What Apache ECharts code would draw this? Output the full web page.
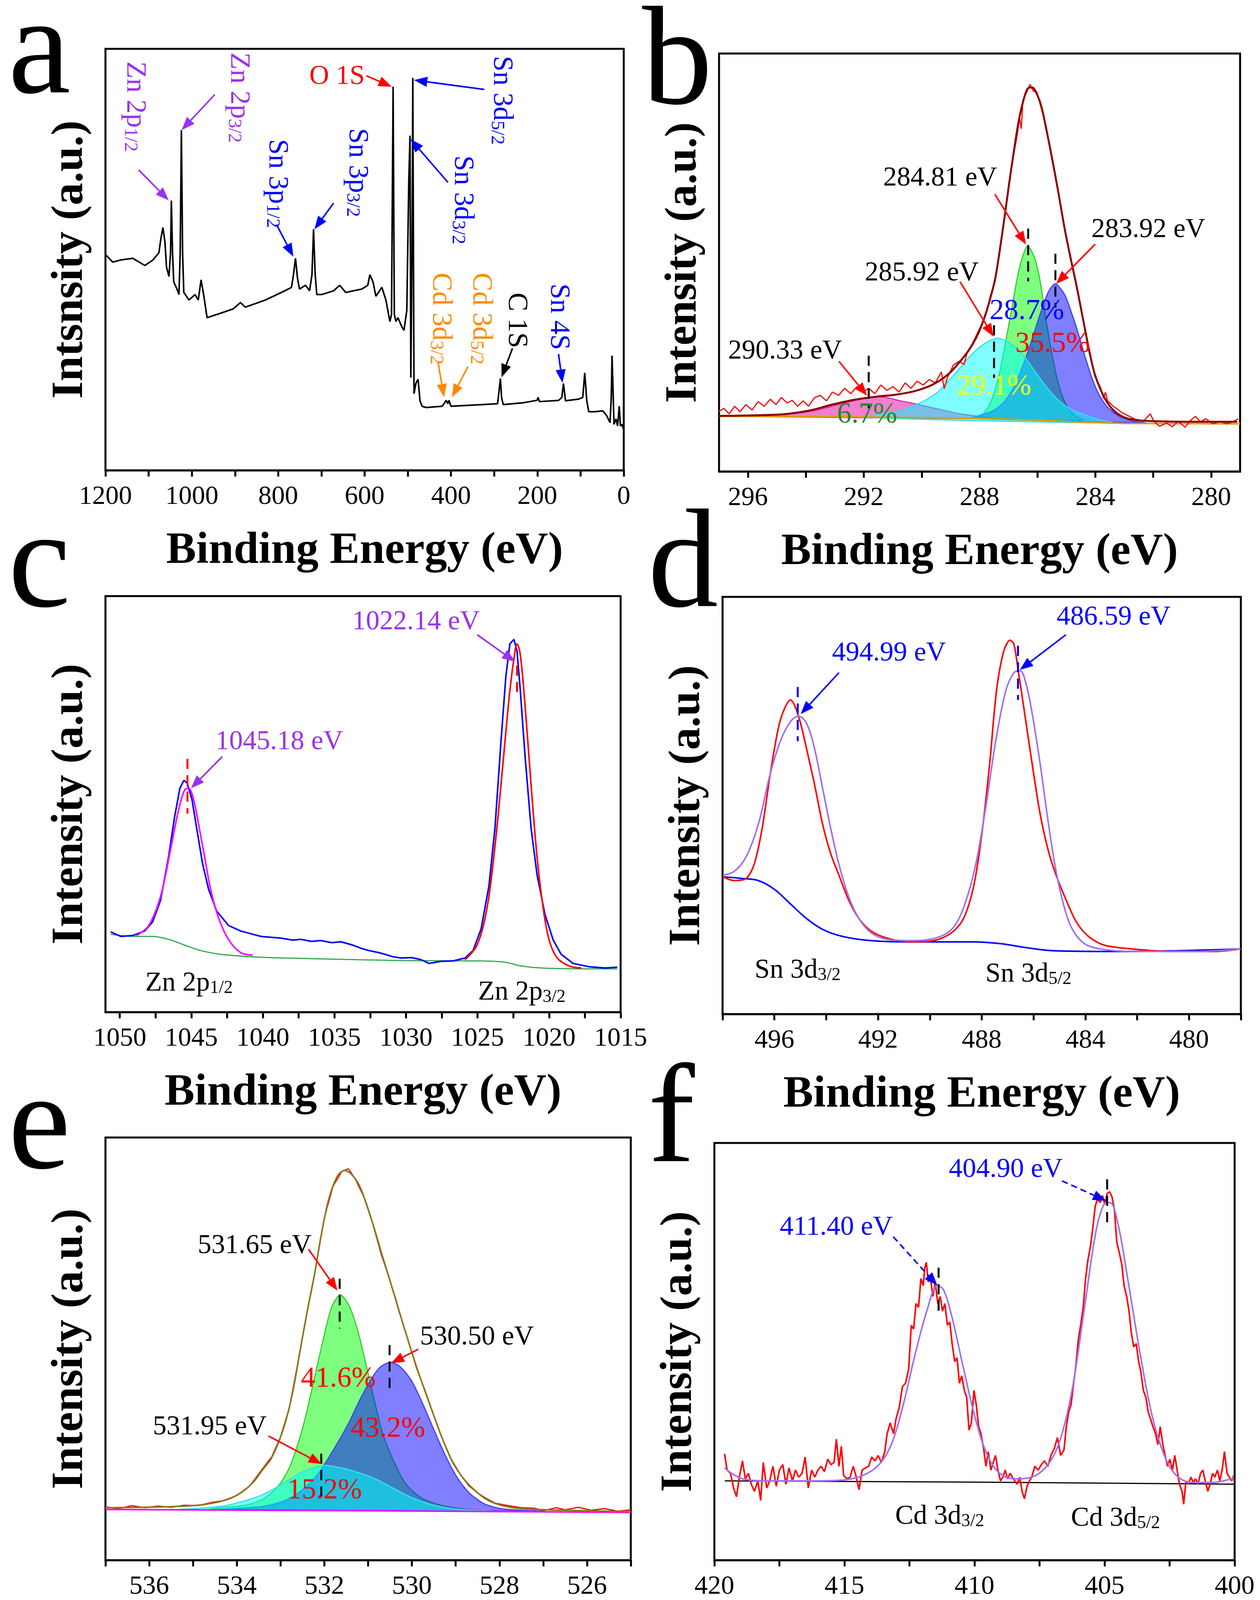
<!DOCTYPE html>
<html>
<head>
<meta charset="utf-8">
<title>XPS spectra</title>
<script src="https://cdn.jsdelivr.net/npm/echarts@6/dist/echarts.min.js"></script>
<style>
html, body { margin: 0; padding: 0; background: #fff; }
#main { width: 3226px; height: 4288px; }
</style>
</head>
<body>
<div id="main"></div>
<script>
var SERIF = "Liberation Serif";

// ---- data: [binding energy (eV), intensity (% of plot height)] ----

// a: survey
var aSurvey = [[1200,51.2],[1183.3,49.4],[1164.7,49.9],[1136.7,50.3],[1108.8,48.6],[1090.2,49.9],[1076.3,51.6],[1071.6,55.0],[1067.0,57.6],[1062.3,54.2],[1058.6,48.2],[1053.0,46.0],[1049.3,51.6],[1047.4,64.0],[1044.7,51.6],[1041.9,44.7],[1034.4,43.0],[1029.8,41.7],[1027.0,51.6],[1024.2,80.7],[1021.4,51.6],[1018.6,42.2],[1006.5,40.4],[992.6,41.7],[985.1,40.4],[978.6,45.2],[972.1,41.3],[964.7,36.2],[941.4,37.0],[904.2,38.3],[887.5,39.8],[876.3,38.7],[829.8,40.4],[792.6,42.2],[769.3,43.4],[764.7,46.4],[760.0,50.3],[755.4,45.6],[750.7,43.0],[736.7,43.9],[727.4,42.6],[721.9,46.4],[718.2,57.2],[714.4,46.4],[710.7,41.7],[699.5,41.7],[671.6,42.6],[657.7,43.9],[643.7,42.2],[606.5,43.0],[592.6,43.9],[587.9,46.4],[580.5,44.7],[573.9,41.3],[560.0,43.4],[550.7,40.4],[541.4,35.3],[537.7,37.0],[534.0,91.0],[531.2,37.0],[527.5,35.3],[522.8,36.2],[513.5,34.0],[508.9,33.2],[502.3,37.9],[497.7,68.7],[494.9,79.4],[493.0,22.0],[490.2,51.6],[488.4,93.1],[485.6,18.2],[481.0,20.7],[476.3,21.6],[471.7,16.5],[467.0,15.2],[457.7,14.9],[420.5,15.2],[414.9,16.0],[411.2,16.6],[407.5,15.8],[404.7,16.6],[400.0,15.2],[327.5,15.6],[292.1,15.8],[288.5,19.0],[285.6,21.8],[282.9,17.3],[279.1,15.6],[234.4,16.0],[201.0,16.6],[198.2,17.3],[195.4,16.3],[150.7,16.6],[143.3,17.3],[139.6,20.6],[134.9,16.5],[104.2,16.9],[94.9,17.3],[90.3,23.1],[85.6,16.5],[81.0,13.9],[67.0,13.9],[48.4,14.1],[39.1,12.9],[31.7,11.3],[28.9,17.3],[27.1,27.2],[24.3,17.3],[22.6,10.9],[17.9,12.2],[14.2,10.5],[10.5,15.2],[7.7,10.5],[4.0,10.9],[0,9.6]];

// b: C 1s
var bRaw = [[297.02,14.3],[296.83,15.1],[296.65,13.8],[296.46,15.6],[296.28,14.3],[296.07,16.0],[295.86,14.7],[295.65,16.7],[295.44,15.6],[295.23,17.3],[295.03,16.0],[294.85,17.7],[294.65,16.4],[294.47,17.0],[294.29,15.6],[294.09,16.9],[293.91,15.6],[293.70,17.7],[293.50,18.2],[293.29,16.9],[293.08,19.0],[292.87,18.2],[292.66,19.9],[292.45,18.6],[292.24,20.3],[292.03,19.0],[291.83,19.9],[291.62,18.6],[291.41,20.7],[291.20,19.4],[290.99,20.3],[290.78,19.0],[290.57,21.2],[290.37,19.9],[290.16,21.6],[289.95,20.7],[289.74,22.0],[289.53,21.2],[289.32,23.8],[289.22,19.8],[289.11,22.5],[288.90,25.5],[288.70,26.4],[288.54,25.6],[288.42,28.6],[288.26,30.4],[288.02,33.9],[287.78,37.5],[287.62,42.2],[287.46,45.6],[287.30,53.4],[287.14,60.2],[286.98,69.3],[286.82,75.8],[286.70,80.5],[286.62,84.6],[286.56,82.0],[286.50,88.9],[286.38,90.6],[286.26,92.6],[286.14,91.0],[286.02,90.8],[285.86,86.7],[285.70,82.6],[285.50,74.6],[285.30,68.1],[285.06,57.6],[284.86,51.7],[284.66,44.2],[284.50,39.6],[284.34,33.0],[284.18,28.3],[284.02,22.8],[283.82,20.1],[283.72,17.5],[283.65,19.0],[283.58,16.9],[283.38,15.6],[283.06,14.0],[282.66,12.6],[282.34,12.0],[282.10,13.8],[281.98,12.0],[281.78,10.8],[281.54,11.6],[281.34,10.7],[281.14,12.0],[280.90,10.6],[280.70,12.3],[280.54,13.2],[280.38,11.9],[280.18,12.6],[279.94,11.4],[279.70,12.0],[279.46,11.4],[279.22,12.0],[279.07,12.6]];
var bEnvelope = [[297.0,13.3],[296.0,13.4],[295.0,13.6],[294.5,13.9],[293.8,14.7],[293.1,16.0],[292.3,17.2],[291.46,18.0],[290.98,18.3],[290.26,19.2],[289.62,20.8],[289.06,23.4],[288.58,27.1],[288.26,30.2],[288.02,33.4],[287.78,37.9],[287.62,41.7],[287.46,46.1],[287.30,53.0],[287.14,60.7],[286.98,68.8],[286.82,76.4],[286.66,83.4],[286.50,88.4],[286.34,91.6],[286.18,91.9],[286.02,90.3],[285.86,87.2],[285.70,82.1],[285.50,75.1],[285.30,67.6],[285.06,58.1],[284.86,51.2],[284.66,44.8],[284.50,39.1],[284.34,33.4],[284.18,27.8],[284.02,23.3],[283.82,19.6],[283.58,16.4],[283.30,14.2],[282.98,12.9],[282.58,12.3],[281.86,12.0],[280.5,11.9],[279.1,11.9]];
var bBackground = [[297.0,13.2],[293.0,13.1],[290.0,12.9],[288.0,12.7],[286.0,12.3],[284.5,11.8],[283.0,11.5],[279.0,11.4]];
var bPeak290 = [[296.5,13.2],[295.93,13.3],[294.82,13.6],[293.84,14.4],[292.87,16.0],[292.3,17.0],[291.76,17.8],[291.3,17.8],[290.8,17.0],[290.37,16.4],[289.53,15.1],[288.70,13.8],[287.58,12.7]];
var bPeak285_9 = [[291.9,13.0],[290.82,14.5],[290.26,15.8],[289.86,17.1],[289.46,18.9],[289.06,21.8],[288.66,24.9],[288.34,27.5],[288.02,29.6],[287.70,31.1],[287.38,31.9],[287.06,31.1],[286.74,29.6],[286.42,27.2],[286.02,23.3],[285.62,19.6],[285.22,16.7],[284.82,14.8],[284.34,13.5],[283.86,12.4],[283.4,11.6]];
var bPeak284_8 = [[288.26,12.7],[287.94,13.4],[287.70,15.4],[287.54,18.0],[287.38,21.5],[287.22,26.5],[287.06,32.5],[286.90,38.5],[286.74,44.8],[286.58,49.9],[286.34,54.0],[286.10,51.1],[285.94,46.7],[285.82,41.7],[285.70,36.0],[285.54,29.6],[285.38,24.0],[285.22,19.6],[285.02,16.1],[284.74,13.5],[284.42,12.2]];
var bPeak283_9 = [[288.3,12.7],[288.10,13.2],[287.54,14.5],[287.14,16.7],[286.82,20.2],[286.58,24.0],[286.34,28.4],[286.10,33.5],[285.86,38.6],[285.62,43.0],[285.38,44.9],[285.06,42.3],[284.82,37.9],[284.58,32.8],[284.34,27.1],[284.10,22.0],[283.86,18.2],[283.58,15.4],[283.22,13.4],[282.74,12.1],[282.26,11.6]];
var bMarks = [[291.83,27.7,15.1],[287.50,35.0,22.4],[286.32,58.1,45.5],[285.38,52.1,39.2]];

// c: Zn 2p
var cRaw = [[1050.64,19.3],[1049.94,18.2],[1049.1,18.4],[1048.26,19.5],[1047.7,21.7],[1047.15,26.9],[1046.59,37.3],[1046.17,46.9],[1045.8,53.8],[1045.52,55.7],[1045.3,55.1],[1044.96,51.2],[1044.63,44.3],[1044.21,35.6],[1043.79,29.5],[1043.23,24.3],[1042.39,20.8],[1041.55,19.5],[1040.15,18.2],[1038.75,17.8],[1037.9,17.3],[1037.35,17.5],[1036.6,17.0],[1035.95,17.2],[1035.2,16.7],[1034.55,16.9],[1033.71,16.1],[1033.1,15.3],[1032.59,14.8],[1031.9,14.3],[1031.47,13.9],[1030.9,13.3],[1030.35,13.0],[1029.6,13.1],[1028.95,12.6],[1028.39,11.7],[1027.55,12.2],[1026.71,12.3],[1025.87,13.0],[1025.31,14.8],[1024.75,20.0],[1024.2,30.4],[1023.78,44.3],[1023.36,65.1],[1023.02,80.7],[1022.74,88.5],[1022.46,89.6],[1022.24,86.8],[1022.01,77.3],[1021.68,61.6],[1021.26,44.3],[1020.84,33.0],[1020.28,23.4],[1019.72,17.4],[1019.16,13.9],[1018.32,11.7],[1017.2,10.9],[1016.08,10.6],[1015.24,10.8]];
var cFit1045 = [[1048.82,18.4],[1047.98,20.8],[1047.15,27.8],[1046.45,39.1],[1045.89,48.6],[1045.47,53.4],[1045.19,53.8],[1044.85,51.2],[1044.49,45.1],[1044.07,37.3],[1043.65,29.5],[1043.09,22.6],[1042.39,17.4],[1041.55,14.3],[1040.71,13.7]];
var cFit1022 = [[1025.87,12.6],[1025.03,16.1],[1024.33,25.2],[1023.78,39.9],[1023.22,59.9],[1022.74,77.3],[1022.38,86.8],[1022.24,88.5],[1022.01,85.9],[1021.68,73.8],[1021.26,54.7],[1020.84,37.3],[1020.42,25.2],[1020.0,17.4],[1019.43,13.0],[1018.60,11.1],[1017.76,10.6]];
var cBackground = [[1050.64,18.7],[1049.1,18.2],[1047.7,18.2],[1046.59,17.5],[1045.47,16.1],[1044.35,14.8],[1042.95,13.9],[1040.15,13.2],[1035.95,12.8],[1030.35,12.4],[1024.75,12.3],[1023.07,12.0],[1021.96,11.1],[1020.56,10.6],[1017.76,10.4],[1015.24,10.4]];
var cMarks = [[1045.27,60.9,47.7],[1022.24,83.3,76.0]];

// d: Sn 3d
var dRaw = [[497.99,32.9],[497.55,32.0],[497.09,32.5],[496.78,35.9],[496.47,44.6],[496.16,57.6],[495.84,68.8],[495.61,73.2],[495.38,75.3],[495.22,74.0],[494.99,69.7],[494.76,63.6],[494.45,55.0],[494.14,45.5],[493.83,38.5],[493.51,33.3],[493.13,27.3],[492.74,22.9],[492.27,19.9],[491.65,18.2],[490.72,17.3],[489.79,17.7],[489.16,19.5],[488.70,22.9],[488.31,30.7],[488.0,42.9],[487.69,60.2],[487.43,77.5],[487.15,87.0],[486.91,89.6],[486.76,88.7],[486.60,82.7],[486.37,73.2],[486.06,60.2],[485.75,48.1],[485.44,39.4],[485.13,33.3],[484.74,27.3],[484.35,22.1],[483.88,18.6],[483.26,16.5],[482.17,15.6],[480.62,15.0],[479.07,15.0],[478.01,15.6]];
var dFit = [[497.99,33.3],[497.55,34.2],[497.09,37.7],[496.62,45.5],[496.16,57.6],[495.77,65.4],[495.38,70.1],[495.07,71.4],[494.76,69.7],[494.45,63.6],[494.14,54.1],[493.83,44.6],[493.51,35.9],[493.13,28.1],[492.74,22.9],[492.27,19.5],[491.65,17.9],[490.72,17.6],[489.79,18.2],[489.16,20.3],[488.70,25.5],[488.23,35.9],[487.84,49.8],[487.46,65.4],[487.07,77.5],[486.76,81.8],[486.52,82.3],[486.29,79.2],[486.06,72.3],[485.75,60.2],[485.44,46.3],[485.13,34.2],[484.81,25.5],[484.50,20.3],[484.04,16.9],[483.42,15.6],[482.17,15.0],[479.84,15.0],[478.01,15.6]];
var dBackground = [[497.99,32.9],[497.24,32.5],[496.62,32.0],[496.0,29.9],[495.38,26.4],[494.76,22.9],[494.14,20.3],[493.36,18.6],[492.27,17.6],[490.72,17.3],[488.39,17.3],[487.30,16.9],[486.37,16.0],[485.28,15.2],[482.95,15.0],[478.01,15.6]];
var dMarks = [[495.10,78.4,65.4],[486.60,88.3,75.3]];

// e: O 1s
var eRaw = [[537.0,12.6],[536.7,12.2],[536.4,12.9],[536.1,12.4],[535.8,12.8],[535.5,12.5],[535.2,13.0],[534.9,12.9],[534.6,13.6],[534.3,14.1],[534.0,15.3],[533.7,17.6],[533.4,21.8],[533.2,24.5],[533.0,29.2],[532.8,36.0],[532.6,47.0],[532.4,58.5],[532.2,69.0],[532.0,81.0],[531.8,88.5],[531.6,92.0],[531.45,92.6],[531.3,90.3],[531.1,86.0],[530.9,79.8],[530.7,72.3],[530.5,66.2],[530.3,59.0],[530.1,52.6],[529.9,45.6],[529.7,40.2],[529.5,34.3],[529.3,28.6],[529.1,23.9],[528.9,20.4],[528.7,17.6],[528.5,15.9],[528.3,14.6],[528.1,13.5],[527.8,12.9],[527.5,12.4],[527.2,12.3],[527.0,11.7],[526.7,12.4],[526.5,11.9],[526.2,12.5],[525.9,11.8],[525.6,12.2],[525.3,11.6],[525.0,11.9]];
var eEnvelope = [[537.0,12.4],[536.2,12.5],[535.38,12.7],[534.72,13.2],[534.20,14.4],[533.87,16.2],[533.61,18.6],[533.41,21.4],[533.21,24.1],[532.98,29.7],[532.82,35.3],[532.69,41.5],[532.56,49.2],[532.39,58.9],[532.23,67.3],[532.07,77.0],[531.90,85.4],[531.70,90.9],[531.54,92.2],[531.38,91.3],[531.18,88.2],[530.92,80.5],[530.66,71.5],[530.39,62.4],[530.13,53.4],[529.87,45.0],[529.61,37.4],[529.34,29.7],[529.08,23.4],[528.82,19.3],[528.56,16.5],[528.30,14.4],[527.97,13.0],[527.51,12.2],[526.52,11.8],[525.0,11.5]];
var eBackground = [[537.0,12.0],[531.0,11.7],[525.0,11.3]];
var ePeak531_65 = [[534.6,12.1],[534.39,12.4],[533.80,13.0],[533.41,14.4],[533.08,17.2],[532.82,21.4],[532.62,27.0],[532.43,33.9],[532.23,43.0],[532.03,52.0],[531.84,59.7],[531.64,62.8],[531.44,60.3],[531.25,54.8],[531.05,46.4],[530.85,37.4],[530.66,29.7],[530.39,22.8],[530.13,17.9],[529.80,14.8],[529.34,13.0],[528.82,12.1],[528.4,11.7]];
var ePeak530_50 = [[534.5,11.9],[534.07,12.2],[533.41,12.7],[532.89,14.1],[532.56,16.2],[532.23,19.3],[531.97,23.1],[531.70,27.7],[531.44,32.5],[531.18,38.1],[530.92,43.0],[530.72,45.7],[530.49,46.8],[530.26,45.7],[530.0,42.3],[529.74,36.7],[529.48,30.4],[529.21,24.2],[528.95,19.3],[528.69,15.9],[528.36,13.4],[527.97,12.2],[527.51,11.8],[527.0,11.6]];
var ePeak531_95 = [[535.9,11.9],[535.38,12.0],[534.85,12.3],[534.26,12.9],[533.80,14.1],[533.41,15.5],[533.08,17.3],[532.75,19.4],[532.43,21.2],[532.03,22.4],[531.64,21.9],[531.25,20.8],[530.85,19.3],[530.46,17.2],[530.07,15.1],[529.61,13.3],[529.15,12.3],[528.62,11.8],[528.2,11.6]];
var eMarks = [[531.65,66.6,54.8],[530.51,50.9,39.5],[532.07,25.2,13.9]];

// f: Cd 3d
var fRaw = [[419.61,25.5],[419.51,21.6],[419.38,20.8],[419.26,17.3],[419.15,15.2],[419.04,19.9],[418.92,23.8],[418.81,19.5],[418.69,20.8],[418.58,18.2],[418.46,16.5],[418.33,19.0],[418.22,14.3],[418.12,23.4],[417.99,17.3],[417.87,19.0],[417.75,22.5],[417.62,17.7],[417.50,21.6],[417.37,22.9],[417.25,18.2],[417.13,22.1],[417.00,19.0],[416.88,21.6],[416.76,19.9],[416.63,20.8],[416.51,24.7],[416.39,17.3],[416.26,21.6],[416.14,19.9],[416.02,21.6],[415.89,22.5],[415.77,21.2],[415.64,24.2],[415.52,22.9],[415.40,23.4],[415.31,29.0],[415.21,22.5],[415.12,27.3],[415.03,20.3],[414.90,19.5],[414.78,19.9],[414.66,22.5],[414.56,20.3],[414.44,16.9],[414.32,21.6],[414.19,22.1],[414.07,22.5],[413.95,24.7],[413.82,23.8],[413.70,25.1],[413.58,23.4],[413.45,26.0],[413.36,30.3],[413.24,32.9],[413.11,30.3],[413.02,33.8],[412.90,36.4],[412.77,41.6],[412.65,42.4],[412.53,45.9],[412.43,56.3],[412.34,55.4],[412.25,61.5],[412.15,60.6],[412.06,67.5],[411.97,65.8],[411.91,70.1],[411.85,71.4],[411.78,66.7],[411.69,67.5],[411.60,63.2],[411.51,66.7],[411.41,61.5],[411.32,63.2],[411.23,59.7],[411.14,61.5],[411.04,56.3],[410.95,57.1],[410.86,51.9],[410.76,47.6],[410.67,48.5],[410.58,42.4],[410.49,44.2],[410.39,40.7],[410.30,39.0],[410.21,31.2],[410.12,32.9],[410.02,40.7],[409.93,37.2],[409.84,32.0],[409.75,30.3],[409.65,26.8],[409.56,22.5],[409.47,26.0],[409.37,21.6],[409.28,23.4],[409.19,25.1],[409.10,21.6],[409.00,19.0],[408.91,19.9],[408.82,21.6],[408.73,19.5],[408.63,20.8],[408.54,19.9],[408.45,19.0],[408.36,18.2],[408.26,19.9],[408.17,16.5],[408.08,14.7],[407.98,17.7],[407.89,19.0],[407.80,19.9],[407.68,22.5],[407.55,21.6],[407.43,22.9],[407.31,23.8],[407.18,22.5],[407.06,25.1],[406.93,26.8],[406.81,29.4],[406.69,25.1],[406.56,26.4],[406.47,32.0],[406.38,35.5],[406.29,37.2],[406.19,42.4],[406.10,46.8],[406.01,52.8],[405.92,56.3],[405.82,60.6],[405.73,67.5],[405.64,71.9],[405.54,75.3],[405.45,79.7],[405.36,84.8],[405.27,86.6],[405.17,85.7],[405.08,87.4],[404.99,85.3],[404.90,87.9],[404.80,88.3],[404.71,87.0],[404.62,84.0],[404.53,76.2],[404.43,73.6],[404.34,71.0],[404.25,65.8],[404.15,63.2],[404.06,59.7],[403.97,54.5],[403.88,51.1],[403.78,51.9],[403.69,47.6],[403.60,45.0],[403.51,40.7],[403.41,39.0],[403.32,35.5],[403.23,33.8],[403.14,32.0],[403.04,30.3],[402.95,27.7],[402.86,32.0],[402.76,27.7],[402.67,25.1],[402.58,22.5],[402.49,24.2],[402.39,21.6],[402.30,25.1],[402.21,21.6],[402.12,18.2],[402.02,16.5],[401.96,13.4],[401.87,19.0],[401.78,18.2],[401.68,19.9],[401.59,18.6],[401.50,19.5],[401.41,18.2],[401.31,20.8],[401.22,21.6],[401.13,19.0],[401.03,16.5],[400.94,18.2],[400.85,20.8],[400.76,19.9],[400.66,21.6],[400.57,19.0],[400.48,21.6],[400.39,26.0],[400.29,20.8],[400.20,19.9],[400.11,19.0],[400.03,20.3]];
var fFit = [[419.61,22.1],[418.92,19.5],[417.84,19.0],[416.29,19.0],[415.06,19.2],[414.29,20.3],[413.67,22.9],[413.20,27.7],[412.74,37.2],[412.28,49.4],[411.81,60.2],[411.43,65.8],[411.20,64.9],[410.89,58.9],[410.42,45.9],[409.96,33.8],[409.50,25.1],[409.03,20.8],[408.42,19.5],[407.80,19.9],[407.18,22.9],[406.72,28.6],[406.25,40.7],[405.79,59.7],[405.33,78.8],[405.02,85.3],[404.79,85.7],[404.48,80.5],[404.09,66.7],[403.63,49.4],[403.17,34.6],[402.70,25.1],[402.24,20.3],[401.62,18.6],[400.85,18.6],[400.03,19.7]];
var fBackground = [[419.6,19.0],[410.0,18.7],[400.0,18.2]];
var fMarks = [[411.38,70.1,58.4],[404.90,91.3,79.7]];

// axes
var xRanges = [[0,1200],[279,297],[1015,1051],[478,498],[525,537],[400,420]];
var xLabelValues = [
  [0,200,400,600,800,1000,1200],
  [280,284,288,292,296],
  [1015,1020,1025,1030,1035,1040,1045,1050],
  [480,484,488,492,496],
  [526,528,530,532,534,536],
  [400,405,410,415,420]
];
var xTickValues = [
  [0,100,200,300,400,500,600,700,800,900,1000,1100,1200],
  [280,282,284,286,288,290,292,294,296],
  [1015,1017.5,1020,1022.5,1025,1027.5,1030,1032.5,1035,1037.5,1040,1042.5,1045,1047.5,1050],
  [478,480,482,484,486,488,490,492,494,496,498],
  [525,526,527,528,529,530,531,532,533,534,535,536,537],
  [400,402.5,405,407.5,410,412.5,415,417.5,420]
];
var yTitles = ['Intsnsity (a.u.)','Intensity (a.u.)','Intensity (a.u.)','Intensity (a.u.)','Intensity (a.u.)','Intensity (a.u.)'];

// panel boxes: left, top, width, height
var boxes = [[270,125,1327,1079],[1841,137,1334,1070],[270,1526,1319,1065],[1850,1528,1327,1068],[270,2912,1345,1082],[1829,2926,1332,1068]];

var PURPLE = '#9A32EE', BLUE = '#0000FF', RED = '#FF0000', ORANGE = '#FF8A00', BLACK = '#000000';

var grids = [], xAxes = [], yAxes = [];
for (var i = 0; i < 6; i++) {
  var b = boxes[i];
  grids.push({
    left: b[0], top: b[1], width: b[2], height: b[3],
    show: true, borderColor: '#000', borderWidth: 5, backgroundColor: 'transparent',
    containLabel: false, outerBoundsMode: 'none'
  });
  xAxes.push({
    gridIndex: i, type: 'value', inverse: true,
    min: xRanges[i][0], max: xRanges[i][1],
    name: 'Binding Energy (eV)', nameLocation: 'middle', nameGap: 150, nameMoveOverlap: false,
    nameTextStyle: { fontFamily: SERIF, fontWeight: 'bold', fontSize: 115, color: '#000' },
    axisLine: { show: true, onZero: false, lineStyle: { color: '#000', width: 5 } },
    axisTick: { show: true, inside: false, length: 16, customValues: xTickValues[i], lineStyle: { color: '#000', width: 5 } },
    axisLabel: {
      show: true, customValues: xLabelValues[i], margin: 34,
      fontFamily: SERIF, fontSize: 68, color: '#000',
      formatter: function (v) { return String(v); }
    },
    splitLine: { show: false }
  });
  yAxes.push({
    gridIndex: i, type: 'value', min: 0, max: 100,
    name: yTitles[i], nameLocation: 'middle', nameGap: 32, nameRotate: 90, nameMoveOverlap: false,
    nameTextStyle: { fontFamily: SERIF, fontWeight: 'bold', fontSize: 115, color: '#000' },
    axisLine: { show: false }, axisTick: { show: false }, axisLabel: { show: false }, splitLine: { show: false }
  });
}

function line(gi, data, color, width, smooth) {
  return {
    type: 'line', xAxisIndex: gi, yAxisIndex: gi, data: data,
    symbol: 'none', smooth: smooth || false, silent: true, z: 3,
    lineStyle: { color: color, width: width }
  };
}

function marks(gi, list, color) {
  return list.map(function (m) {
    return {
      type: 'line', xAxisIndex: gi, yAxisIndex: gi, data: [[m[0], m[1]], [m[0], m[2]]],
      symbol: 'none', silent: true, z: 6,
      lineStyle: { color: color, width: 5, type: [26, 16] }
    };
  });
}

// fitted component filled down to the background
function peak(gi, pts, fill, stroke) {
  return {
    type: 'custom', xAxisIndex: gi, yAxisIndex: gi, coordinateSystem: 'cartesian2d',
    data: [pts[0]], silent: true, z: 2,
    renderItem: function (params, api) {
      var p = pts.map(function (d) { return api.coord(d); });
      return { type: 'polygon', shape: { points: p, smooth: 0.25 }, style: { fill: fill, stroke: stroke, lineWidth: 3 } };
    }
  };
}

var series = [];
// a
series.push(line(0, aSurvey, BLACK, 4));
// b
series.push(line(1, bBackground, '#E09A00', 4));
series.push(peak(1, bPeak290, 'rgba(230,0,160,0.5)', '#D030B0'));
series.push(peak(1, bPeak284_8, 'rgba(0,255,0,0.5)', '#30D030'));
series.push(peak(1, bPeak283_9, 'rgba(0,0,255,0.5)', '#4040FF'));
series.push(peak(1, bPeak285_9, 'rgba(0,255,255,0.5)', '#30E0F0'));
series.push(line(1, bRaw, RED, 3));
series.push(line(1, bEnvelope, '#8B0000', 5, 0.3));
series = series.concat(marks(1, bMarks, BLACK));
// c
series.push(line(2, cBackground, '#2EA84A', 3, 0.3));
series.push(line(2, cRaw, BLUE, 4));
series.push(line(2, cFit1045, '#FF00FF', 4, 0.35));
series.push(line(2, cFit1022, RED, 4, 0.35));
series = series.concat(marks(2, cMarks, RED));
// d
series.push(line(3, dBackground, BLUE, 4, 0.35));
series.push(line(3, dRaw, RED, 4, 0.3));
series.push(line(3, dFit, '#A070EE', 4, 0.35));
series = series.concat(marks(3, dMarks, BLUE));
// e
series.push(peak(4, ePeak531_65, 'rgba(0,255,0,0.5)', '#30D030'));
series.push(peak(4, ePeak530_50, 'rgba(0,0,255,0.5)', '#4040FF'));
series.push(peak(4, ePeak531_95, 'rgba(0,255,255,0.5)', '#30E0F0'));
series.push(line(4, eBackground, '#FF00FF', 4));
series.push(line(4, eRaw, RED, 3));
series.push(line(4, eEnvelope, '#857A1C', 4, 0.3));
series = series.concat(marks(4, eMarks, BLACK));
// f
series.push(line(5, fBackground, BLACK, 3));
series.push(line(5, fRaw, RED, 4));
series.push(line(5, fFit, '#A070EE', 4, 0.35));
series = series.concat(marks(5, fMarks, BLACK));

// ---- annotations ----
function text(x, y, s, color, size, align, rot) {
  return {
    type: 'text', x: x, y: y, rotation: rot || 0, silent: true, z: 100,
    style: { text: s, fill: color, fontFamily: SERIF, fontSize: size,
      align: align || 'center', textAlign: align || 'center', verticalAlign: 'middle', textVerticalAlign: 'middle' }
  };
}
function subText(x, y, main, sub, color, size, rot) {
  var s = Math.round(size * 0.66);
  return {
    type: 'text', x: x, y: y, rotation: rot || 0, silent: true, z: 100,
    style: {
      text: '{m|' + main + '}{s|' + sub + '}',
      align: 'left', textAlign: 'left', verticalAlign: 'middle', textVerticalAlign: 'middle',
      rich: {
        m: { fontFamily: SERIF, fontSize: size, lineHeight: size, fill: color, verticalAlign: 'top' },
        s: { fontFamily: SERIF, fontSize: s, lineHeight: s, fill: color, verticalAlign: 'bottom', padding: [Math.round(size * 0.48), 0, 0, 0] }
      }
    }
  };
}
function arrow(x1, y1, x2, y2, color, dashed) {
  var ang = Math.atan2(y2 - y1, x2 - x1), L = 34, W = 13;
  var bx = x2 - L * Math.cos(ang), by = y2 - L * Math.sin(ang);
  var sn = Math.sin(ang), cs = Math.cos(ang);
  return [
    { type: 'line', silent: true, z: 100, shape: { x1: x1, y1: y1, x2: bx, y2: by },
      style: { stroke: color, lineWidth: 4, lineDash: dashed ? [16, 10] : null } },
    { type: 'polygon', silent: true, z: 100,
      shape: { points: [[x2, y2], [bx - W * sn, by + W * cs], [bx + W * sn, by - W * cs]] },
      style: { fill: color } }
  ];
}

var ROT = -Math.PI / 2;
var gfx = [];
// panel letters
[['a', 21, 142], ['b', 1644, 170], ['c', 21, 1457], ['d', 1659, 1457], ['e', 21, 2895], ['f', 1659, 2878]].forEach(function (l) {
  gfx.push(text(l[1], l[2], l[0], BLACK, 360, 'left'));
});

// a: vertical peak names
[[345, 157, 'Zn 2p', '1/2', PURPLE], [611, 134, 'Zn 2p', '3/2', PURPLE],
 [709, 356, 'Sn 3p', '1/2', BLUE], [914, 328, 'Sn 3p', '3/2', BLUE],
 [1284, 143, 'Sn 3d', '5/2', BLUE], [1184, 398, 'Sn 3d', '3/2', BLUE],
 [1128, 698, 'Cd 3d', '3/2', ORANGE], [1231, 698, 'Cd 3d', '5/2', ORANGE]].forEach(function (l) {
  gfx.push(subText(l[0], l[1], l[2], l[3], l[4], 72, ROT));
});
gfx.push(text(1322, 749, 'C 1S', BLACK, 72, 'left', ROT));
gfx.push(text(1430, 726, 'Sn 4S', BLUE, 72, 'left', ROT));
gfx.push(text(792, 197, 'O 1S', RED, 70, 'left'));

var arrows = [
  [355, 435, 432, 513, PURPLE], [550, 242, 465, 333, PURPLE],
  [708, 575, 751, 657, BLUE], [854, 520, 805, 587, BLUE],
  [938, 194, 1003, 222, RED], [1240, 229, 1060, 205, BLUE], [1147, 467, 1051, 356, BLUE],
  [1121, 925, 1137, 1017, ORANGE], [1198, 939, 1157, 1017, ORANGE],
  [1312, 892, 1284, 966, BLACK], [1430, 906, 1440, 980, BLUE],
  // b
  [2547, 497, 2627, 626, RED], [2804, 625, 2704, 727, RED], [2458, 721, 2544, 862, RED], [2148, 925, 2220, 1013, RED],
  // c
  [569, 1937, 489, 2018, PURPLE], [1222, 1625, 1319, 1694, PURPLE],
  // d
  [2148, 1722, 2050, 1828, BLUE], [2729, 1625, 2611, 1715, BLUE],
  // e
  [790, 3198, 864, 3304, RED], [1071, 3454, 1001, 3490, RED], [687, 3676, 824, 3748, RED]
];
arrows.forEach(function (a) { gfx = gfx.concat(arrow(a[0], a[1], a[2], a[3], a[4], false)); });
gfx = gfx.concat(arrow(2287, 3166, 2400, 3291, BLUE, true));
gfx = gfx.concat(arrow(2719, 3023, 2832, 3074, BLUE, true));

// b labels
gfx.push(text(2407, 457, '284.81 eV', BLACK, 70));
gfx.push(text(2940, 589, '283.92 eV', BLACK, 70));
gfx.push(text(2360, 700, '285.92 eV', BLACK, 70));
gfx.push(text(2010, 900, '290.33 eV', BLACK, 70));
gfx.push(text(2629, 798, '28.7%', BLUE, 74));
gfx.push(text(2695, 882, '35.5%', RED, 74));
gfx.push(text(2545, 991, '29.1%', '#FFFF00', 74));
gfx.push(text(2220, 1063, '6.7%', '#1E8C1E', 74));
// c labels
gfx.push(text(715, 1900, '1045.18 eV', PURPLE, 70));
gfx.push(text(1065, 1593, '1022.14 eV', PURPLE, 70));
gfx.push(subText(372, 2518, 'Zn 2p', '1/2', BLACK, 70));
gfx.push(subText(1224, 2541, 'Zn 2p', '3/2', BLACK, 70));
// d labels
gfx.push(text(2276, 1673, '494.99 eV', BLUE, 70));
gfx.push(text(2851, 1581, '486.59 eV', BLUE, 70));
gfx.push(subText(1932, 2485, 'Sn 3d', '3/2', BLACK, 70));
gfx.push(subText(2523, 2495, 'Sn 3d', '5/2', BLACK, 70));
// e labels
gfx.push(text(652, 3190, '531.65 eV', BLACK, 70));
gfx.push(text(1221, 3424, '530.50 eV', BLACK, 70));
gfx.push(text(537, 3654, '531.95 eV', BLACK, 70));
gfx.push(text(866, 3531, '41.6%', RED, 74));
gfx.push(text(993, 3659, '43.2%', RED, 74));
gfx.push(text(831, 3817, '15.2%', RED, 74));
// f labels
gfx.push(text(2141, 3143, '411.40 eV', BLUE, 70));
gfx.push(text(2575, 2995, '404.90 eV', BLUE, 70));
gfx.push(subText(2292, 3883, 'Cd 3d', '3/2', BLACK, 70));
gfx.push(subText(2742, 3888, 'Cd 3d', '5/2', BLACK, 70));

var chart = echarts.init(document.getElementById('main'), null, { renderer: 'canvas' });
chart.setOption({
  animation: false,
  backgroundColor: '#fff',
  textStyle: { fontFamily: SERIF },
  grid: grids,
  xAxis: xAxes,
  yAxis: yAxes,
  series: series,
  graphic: { elements: gfx }
});
</script>
</body>
</html>
